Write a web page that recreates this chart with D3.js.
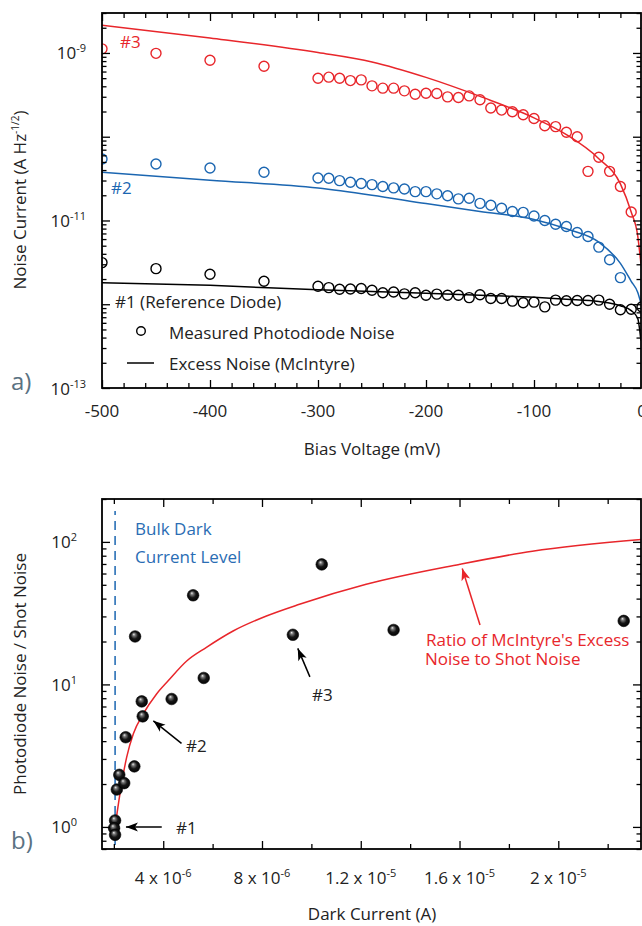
<!DOCTYPE html>
<html><head><meta charset="utf-8">
<script src="https://cdn.jsdelivr.net/npm/d3@7"></script>
<style>body{margin:0;background:#fff} svg{display:block} text{font-family:"Open Sans",sans-serif;fill:#222}</style>
</head><body><svg id="c" width="642" height="926"></svg>
<script>
// ---------- Panel a) data ----------
const biasVoltage = [-500,-450,-400,-350,-300,-290,-280,-270,-260,-250,-240,-230,-220,-210,-200,-190,-180,-170,-160,-150,-140,-130,-120,-110,-100,-90,-80,-70,-60,-50,-40,-30,-20,-10,0];
const noiseDiode3 = [1.12e-9,0.99e-9,8.18e-10,6.95e-10,5.0e-10,5.14e-10,5.0e-10,4.68e-10,4.77e-10,4.05e-10,3.80e-10,3.80e-10,3.53e-10,3.22e-10,3.31e-10,3.28e-10,2.99e-10,2.94e-10,3.07e-10,2.76e-10,2.20e-10,2.08e-10,1.99e-10,1.83e-10,1.65e-10,1.35e-10,1.32e-10,1.13e-10,1.0e-10,3.86e-11,5.68e-11,3.86e-11,2.54e-11,1.26e-11,null];
const noiseDiode2 = [5.42e-11,4.73e-11,4.24e-11,3.76e-11,3.22e-11,3.19e-11,2.99e-11,2.86e-11,2.76e-11,2.68e-11,2.54e-11,2.45e-11,2.38e-11,2.21e-11,2.21e-11,2.08e-11,1.97e-11,1.81e-11,1.84e-11,1.60e-11,1.52e-11,1.40e-11,1.28e-11,1.25e-11,1.13e-11,1.0e-11,9.03e-12,8.49e-12,7.20e-12,6.45e-12,4.81e-12,3.40e-12,2.08e-12,null,null];
const noiseDiode1 = [3.14e-12,2.66e-12,2.28e-12,1.88e-12,1.64e-12,1.58e-12,1.51e-12,1.52e-12,1.54e-12,1.47e-12,1.37e-12,1.40e-12,1.33e-12,1.37e-12,1.28e-12,1.32e-12,1.28e-12,1.28e-12,1.20e-12,1.30e-12,1.17e-12,1.17e-12,1.09e-12,1.04e-12,1.06e-12,9.3e-13,1.12e-12,1.10e-12,1.11e-12,1.11e-12,1.12e-12,1.0e-12,8.61e-13,8.71e-13,9.3e-13];

const modelVoltage = [-500,-400,-300,-250,-200,-150,-100,-70,-40,-20,-10,-4,-1];
const modelDiode3 = [2.14e-9,1.51e-9,1.01e-9,7.81e-10,5.11e-10,3.03e-10,1.68e-10,1.06e-10,5.47e-11,2.74e-11,1.26e-11,6.6e-12,3.05e-12];
const modelDiode2 = [3.76e-11,3.02e-11,2.44e-11,2.0e-11,1.59e-11,1.28e-11,1.03e-11,7.96e-12,5.52e-12,3.08e-12,1.88e-12,1.39e-12,1.03e-12];
const modelDiode1 = [1.80e-12,1.68e-12,1.49e-12,1.42e-12,1.35e-12,1.28e-12,1.21e-12,1.15e-12,1.08e-12,9.6e-13,8.4e-13,6.8e-13,3.7e-13];

const topXTickLabels = ["-500","-400","-300","-200","-100","0"];
const topXTicks = [-500,-400,-300,-200,-100,0];
const topYLabelTicks = [1e-13,1e-11,1e-9];
const topYLabelExp = ["-13","-11","-9"];

// ---------- Panel b) data ----------
const darkCurrent = [2.05e-6,2.01e-6,2.05e-6,2.12e-6,2.22e-6,2.42e-6,2.83e-6,2.48e-6,3.17e-6,3.13e-6,4.34e-6,2.86e-6,5.21e-6,5.64e-6,9.25e-6,10.42e-6,13.33e-6,22.65e-6];
const noiseRatio  = [1.11,0.98,0.88,1.83,2.32,2.03,2.66,4.26,5.97,7.6,7.9,21.7,42.2,11.1,22.3,69.5,24.1,27.9];
const modelCurrent = [2.05e-6,2.25e-6,2.52e-6,2.79e-6,3.19e-6,3.73e-6,4.20e-6,4.95e-6,5.75e-6,6.83e-6,8.18e-6,9.52e-6,12.22e-6,15.99e-6,18.95e-6,23.35e-6];
const modelRatio   = [1.0,1.72,3.09,4.50,6.21,8.57,10.6,14.6,18.2,23.7,30.2,36.5,50.4,69.5,86.1,104];
const bulkDarkCurrent = 2.05e-6;
const botXTicks = [4e-6,8e-6,1.2e-5,1.6e-5,2e-5];
const botXTickBase = ["4 x 10","8 x 10","1.2 x 10","1.6 x 10","2 x 10"];
const botXTickExp = ["-6","-6","-5","-5","-5"];
const botXMinor = [2e-6,6e-6,1e-5,1.4e-5,1.8e-5,2.2e-5];
const botYLabelTicks = [1,10,100];
const botYLabelExp = ["0","1","2"];

const RED = "#e8262b", BLUE = "#1b66b1", TXTBLUE = "#2a6db4";
const svg = d3.select("#c");
svg.append("rect").attr("width",642).attr("height",926).attr("fill","#fff");

const defs = svg.append("defs");
const grad = defs.append("radialGradient").attr("id","ball").attr("cx","0.5").attr("cy","0.5").attr("r","0.55").attr("fx","0.38").attr("fy","0.3");
grad.append("stop").attr("offset","0%").attr("stop-color","#eeeeee");
grad.append("stop").attr("offset","22%").attr("stop-color","#777");
grad.append("stop").attr("offset","55%").attr("stop-color","#161616");
grad.append("stop").attr("offset","100%").attr("stop-color","#000");

function logMinor(lo, hi){
  const out=[];
  for(let e=Math.floor(Math.log10(lo)); e<=Math.ceil(Math.log10(hi)); e++)
    for(let k=2;k<=9;k++){const v=k*Math.pow(10,e); if(v>=lo*0.999 && v<=hi*1.001) out.push(v);}
  return out;
}
function tickSet(g, axisFn, scale, values, len, transform){
  const a = axisFn(scale).tickValues(values).tickSizeInner(-len).tickSizeOuter(0).tickFormat("");
  const s = g.append("g").attr("transform", transform).call(a);
  s.select(".domain").remove();
  s.selectAll(".tick line").attr("stroke","#000").attr("stroke-width",1.3);
}
function supText(g, x, y, base, sup, anchor){
  const t = g.append("text").attr("x",x).attr("y",y).attr("text-anchor",anchor).attr("font-size",17);
  t.append("tspan").text(base);
  t.append("tspan").attr("dy",-7).attr("font-size",11).text(sup);
  return t;
}
function arrow(g, x1, y1, x2, y2, color){
  g.append("line").attr("x1",x1).attr("y1",y1).attr("x2",x2).attr("y2",y2).attr("stroke",color).attr("stroke-width",1.5);
  const ang = Math.atan2(y2-y1, x2-x1), L=12, W=4.5;
  const bx = x2 - L*Math.cos(ang), by = y2 - L*Math.sin(ang);
  const px = -Math.sin(ang)*W, py = Math.cos(ang)*W;
  g.append("path").attr("d",`M${x2},${y2}L${bx+px},${by+py}L${bx+L*0.25*Math.cos(ang)},${by+L*0.25*Math.sin(ang)}L${bx-px},${by-py}Z`).attr("fill",color);
}

// ================= Panel a =================
const A = {l:102, r:641, t:13, b:388};
const xA = d3.scaleLinear().domain([-500,0]).range([102,642]);
const yA = d3.scaleLog().domain([1e-13,3e-9]).range([A.b, A.t]);
const gA = svg.append("g");
defs.append("clipPath").attr("id","clipA").append("rect").attr("x",A.l).attr("y",A.t).attr("width",A.r-A.l).attr("height",A.b-A.t);

const lineA = d3.line().x(d=>xA(d[0])).y(d=>yA(d[1])).curve(d3.curveMonotoneX);
const plotA = gA.append("g").attr("clip-path","url(#clipA)");
[[modelDiode3,RED],[modelDiode2,BLUE],[modelDiode1,"#000"]].forEach(([vals,c])=>{
  plotA.append("path").datum(modelVoltage.map((v,i)=>[v,vals[i]])).attr("d",lineA).attr("fill","none").attr("stroke",c).attr("stroke-width",1.5);
});
[[noiseDiode3,RED],[noiseDiode2,BLUE],[noiseDiode1,"#000"]].forEach(([vals,c])=>{
  plotA.selectAll(null).data(biasVoltage.map((v,i)=>[v,vals[i]]).filter(d=>d[1]!=null)).enter()
    .append("circle").attr("cx",d=>xA(d[0])).attr("cy",d=>yA(d[1])).attr("r",5)
    .attr("fill","none").attr("stroke",c).attr("stroke-width",1.4);
});

// ticks a
const topMinorX = d3.range(-480,0,20).filter(v=>v%100!==0);
tickSet(gA, d3.axisBottom, xA, topXTicks, 8, `translate(0,${A.b})`);
tickSet(gA, d3.axisBottom, xA, topMinorX, 5, `translate(0,${A.b})`);
tickSet(gA, d3.axisTop, xA, topXTicks, 8, `translate(0,${A.t})`);
tickSet(gA, d3.axisTop, xA, topMinorX, 5, `translate(0,${A.t})`);
const topMajorY = [1e-13,1e-12,1e-11,1e-10,1e-9];
const topMinorY = logMinor(1e-13,3e-9);
tickSet(gA, d3.axisLeft, yA, topMajorY, 8, `translate(${A.l},0)`);
tickSet(gA, d3.axisLeft, yA, topMinorY, 4.5, `translate(${A.l},0)`);
tickSet(gA, d3.axisRight, yA, topMajorY, 8, `translate(${A.r},0)`);
tickSet(gA, d3.axisRight, yA, topMinorY, 4.5, `translate(${A.r},0)`);
gA.append("rect").attr("x",A.l).attr("y",A.t).attr("width",A.r-A.l).attr("height",A.b-A.t).attr("fill","none").attr("stroke","#000").attr("stroke-width",1.8);

topXTicks.forEach((v,i)=>gA.append("text").attr("x",xA(v)).attr("y",417).attr("text-anchor","middle").attr("font-size",17).text(topXTickLabels[i]));
topYLabelTicks.forEach((v,i)=>supText(gA, 86, yA(v)+6.5, "10", topYLabelExp[i], "end"));

gA.append("text").attr("x",372).attr("y",455).attr("text-anchor","middle").attr("font-size",17).text("Bias Voltage (mV)");
const tA = gA.append("text").attr("transform","translate(26,200) rotate(-90)").attr("text-anchor","middle").attr("font-size",17);
tA.append("tspan").text("Noise Current (A Hz");
tA.append("tspan").attr("dy",-7).attr("font-size",10).text("-1/2");
tA.append("tspan").attr("dy",7).text(")");

gA.append("text").attr("x",120).attr("y",48).attr("font-size",17).style("fill",RED).text("#3");
gA.append("text").attr("x",111).attr("y",194).attr("font-size",17).style("fill",BLUE).text("#2");
gA.append("text").attr("x",115).attr("y",308).attr("font-size",17).text("#1 (Reference Diode)");
gA.append("circle").attr("cx",141).attr("cy",331).attr("r",4.3).attr("fill","none").attr("stroke","#000").attr("stroke-width",1.4);
gA.append("text").attr("x",169).attr("y",339).attr("font-size",17).text("Measured Photodiode Noise");
gA.append("line").attr("x1",127).attr("x2",154).attr("y1",363).attr("y2",363).attr("stroke","#000").attr("stroke-width",1.5);
gA.append("text").attr("x",169).attr("y",370).attr("font-size",17).text("Excess Noise (McIntyre)");
gA.append("text").attr("x",11).attr("y",390).attr("font-size",24).style("fill","#5a7282").text("a)");

// ================= Panel b =================
const B = {l:102, r:641, t:499, b:849};
const xB = d3.scaleLinear().domain([1.52e-6,23.35e-6]).range([B.l,B.r]);
const yB = d3.scaleLog().domain([0.7,200]).range([B.b,B.t]);
const gB = svg.append("g");
defs.append("clipPath").attr("id","clipB").append("rect").attr("x",B.l).attr("y",B.t).attr("width",B.r-B.l).attr("height",B.b-B.t);
const plotB = gB.append("g").attr("clip-path","url(#clipB)");

plotB.append("line").attr("x1",xB(bulkDarkCurrent)).attr("x2",xB(bulkDarkCurrent)).attr("y1",B.b-4).attr("y2",B.t+12)
  .attr("stroke",BLUE).attr("stroke-width",1.5).attr("stroke-dasharray","9,6");
const lineB = d3.line().x(d=>xB(d[0])).y(d=>yB(d[1])).curve(d3.curveMonotoneX);
plotB.append("path").datum(modelCurrent.map((v,i)=>[v,modelRatio[i]])).attr("d",lineB).attr("fill","none").attr("stroke",RED).attr("stroke-width",1.5);
plotB.selectAll(null).data(darkCurrent.map((v,i)=>[v,noiseRatio[i]])).enter()
  .append("circle").attr("cx",d=>xB(d[0])).attr("cy",d=>yB(d[1])).attr("r",5.8)
  .attr("fill","url(#ball)").attr("stroke","#000").attr("stroke-width",0.6);

tickSet(gB, d3.axisBottom, xB, botXTicks, 8, `translate(0,${B.b})`);
tickSet(gB, d3.axisBottom, xB, botXMinor, 5, `translate(0,${B.b})`);
tickSet(gB, d3.axisTop, xB, botXTicks, 8, `translate(0,${B.t})`);
tickSet(gB, d3.axisTop, xB, botXMinor, 5, `translate(0,${B.t})`);
const botMajorY = [1,10,100];
const botMinorY = logMinor(0.7,200);
tickSet(gB, d3.axisLeft, yB, botMajorY, 8, `translate(${B.l},0)`);
tickSet(gB, d3.axisLeft, yB, botMinorY, 4.5, `translate(${B.l},0)`);
tickSet(gB, d3.axisRight, yB, botMajorY, 8, `translate(${B.r},0)`);
tickSet(gB, d3.axisRight, yB, botMinorY, 4.5, `translate(${B.r},0)`);
gB.append("rect").attr("x",B.l).attr("y",B.t).attr("width",B.r-B.l).attr("height",B.b-B.t).attr("fill","none").attr("stroke","#000").attr("stroke-width",1.8);

botXTicks.forEach((v,i)=>supText(gB, xB(v), 884, botXTickBase[i], botXTickExp[i], "middle"));
botYLabelTicks.forEach((v,i)=>supText(gB, 77, yB(v)+6.5, "10", botYLabelExp[i], "end"));

gB.append("text").attr("x",372).attr("y",920).attr("text-anchor","middle").attr("font-size",17).text("Dark Current (A)");
gB.append("text").attr("transform","translate(26,674) rotate(-90)").attr("text-anchor","middle").attr("font-size",17).text("Photodiode Noise / Shot Noise");

const bulk = gB.append("text").attr("font-size",17).style("fill",TXTBLUE);
bulk.append("tspan").attr("x",135).attr("y",535).text("Bulk Dark");
bulk.append("tspan").attr("x",135).attr("y",563).text("Current Level");
const ratio = gB.append("text").attr("font-size",17).style("fill",RED);
ratio.append("tspan").attr("x",426).attr("y",646).text("Ratio of McIntyre's Excess");
ratio.append("tspan").attr("x",425).attr("y",665).text("Noise to Shot Noise");
gB.append("text").attr("x",312).attr("y",701).attr("font-size",17).text("#3");
gB.append("text").attr("x",186).attr("y",752).attr("font-size",17).text("#2");
gB.append("text").attr("x",176).attr("y",834).attr("font-size",17).text("#1");
gB.append("text").attr("x",11).attr("y",849).attr("font-size",24).style("fill","#5a7282").text("b)");

// annotation arrows in data coordinates [tailX, tailY, headX, headY]
const arrows = [
  [3.94e-6,1.0,2.49e-6,1.0,"#000"],
  [4.74e-6,3.86,3.60e-6,5.55,"#000"],
  [9.94e-6,11.3,9.45e-6,17.9,"#000"],
  [16.83e-6,26.1,16.11e-6,65.1,RED]
];
arrows.forEach(a=>arrow(gB, xB(a[0]), yB(a[1]), xB(a[2]), yB(a[3]), a[4]));
</script></body></html>
